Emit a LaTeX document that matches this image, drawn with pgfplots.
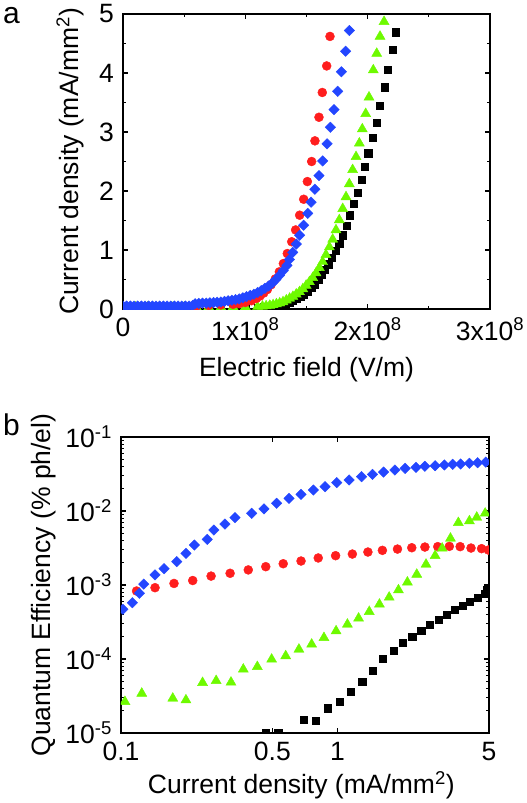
\documentclass[border=0pt]{standalone}
\usepackage{pgfplots}
\pgfplotsset{compat=1.18}
\usepackage{fontspec}
\setmainfont{Liberation Sans}
\definecolor{mred}{RGB}{255,30,30}
\definecolor{mblue}{RGB}{35,70,255}
\definecolor{mgreen}{RGB}{110,250,0}
\newcommand{\fs}{\fontsize{26.5}{30}\selectfont}
\begin{document}
\fs
\begin{tikzpicture}
\path[use as bounding box] (0,0) rectangle (527pt,-803pt);
\node[anchor=north west,inner sep=0pt,font=\fontsize{30}{34}\selectfont] at (3pt,-7pt) {a};
\node[anchor=north west,inner sep=0pt,font=\fontsize{30}{34}\selectfont] at (3pt,-414pt) {b};
\pgfplotsset{
  every axis/.append style={
    axis line style={line width=1.6pt},
    tick style={line width=1.2pt, black},
    major tick length=5pt, minor tick length=3pt,
    tick align=inside, tick pos=both,
    scale only axis, clip marker paths=true, enlargelimits=false,
    tick label style={font=\fs},
    label style={font=\fs},
  },
  blk/.style={only marks, mark=square*, mark size=3.6pt, color=black},
  red/.style={only marks, mark=*, mark size=4.5pt, color=mred},
  blu/.style={only marks, mark=square*, mark size=3.7pt, color=mblue, mark options={rotate=45}},
  grn/.style={only marks, mark=triangle*, mark size=5.8pt, color=mgreen},
}
\begin{axis}[at={(123pt,-309pt)}, anchor=south west, width=367pt, height=295pt,
  xmin=0, xmax=3, ymin=0, ymax=5,
  xtick={0,1,2,3}, xticklabels={0,1x10\textsuperscript{8},2x10\textsuperscript{8},3x10\textsuperscript{8}},
  minor x tick num=1,
  ytick={0,1,2,3,4,5}, yticklabels={0,1,2,3,4,5}, minor y tick num=1,
  xlabel={Electric field (V/m)},
  ylabel={Current density (mA/mm\textsuperscript{2})},
  xlabel style={at={(axis description cs:0.5,-0.23)}, anchor=base},
  ylabel style={at={(axis description cs:-0.144,0.5)}, anchor=center},
]
\addplot[blk] coordinates {(0,0.02)(0.1,0.02)(0.2,0.02)(0.3,0.02)(0.4,0.02)(0.5,0.02)(0.6,0.02)(0.7,0.02)(0.8,0.02)(0.9,0.02)(1.0,0.02)(1.1,0.025)(1.15,0.03)(1.21,0.035)(1.24,0.045)(1.27,0.055)(1.30,0.07)(1.33,0.09)(1.36,0.11)(1.39,0.14)(1.42,0.17)(1.45,0.21)(1.48,0.25)(1.51,0.30)(1.54,0.36)(1.57,0.42)
(1.597,0.49)(1.624,0.58)(1.651,0.66)(1.678,0.76)(1.708,0.87)(1.741,0.99)(1.768,1.11)(1.796,1.25)(1.828,1.41)(1.856,1.59)(1.888,1.78)(1.918,1.97)(1.951,2.19)(1.978,2.41)(2.005,2.64)(2.041,2.90)(2.074,3.16)(2.101,3.45)(2.142,3.76)(2.163,4.06)(2.202,4.39)(2.229,4.69)(2.232,5.02)};
\addplot[grn] coordinates {(0,0.03)(0.1,0.03)(0.2,0.03)(0.3,0.03)(0.4,0.03)(0.5,0.03)(0.6,0.03)(0.7,0.03)(0.8,0.03)(0.9,0.035)(1.0,0.035)(1.1,0.04)(1.14,0.045)(1.17,0.05)(1.20,0.06)(1.227,0.07)(1.254,0.085)(1.281,0.10)(1.308,0.12)(1.335,0.15)(1.362,0.18)(1.389,0.21)(1.416,0.25)(1.443,0.29)(1.47,0.34)(1.497,0.40)(1.524,0.46)(1.551,0.53)(1.578,0.61)(1.605,0.70)(1.632,0.80)
(1.659,0.92)(1.687,1.05)(1.714,1.18)(1.741,1.34)(1.768,1.51)(1.796,1.70)(1.823,1.90)(1.850,2.12)(1.877,2.36)(1.905,2.58)(1.932,2.81)(1.956,3.05)(1.984,3.31)(2.011,3.59)(2.046,4.05)(2.074,4.33)(2.101,4.62)(2.134,4.87)};
\addplot[red] coordinates {(0,0.04)(0.1,0.04)(0.2,0.04)(0.3,0.04)(0.4,0.04)(0.5,0.04)(0.6,0.05)(0.7,0.06)(0.8,0.07)(0.9,0.08)(0.95,0.09)(1.0,0.11)(1.05,0.14)(1.09,0.18)(1.12,0.22)(1.15,0.27)(1.18,0.33)(1.21,0.41)(1.245,0.51)(1.278,0.63)
(1.311,0.77)(1.343,0.94)(1.379,1.14)(1.411,1.34)(1.444,1.59)(1.477,1.86)(1.507,2.16)(1.542,2.50)(1.569,2.85)(1.602,3.25)(1.629,3.67)(1.665,4.12)(1.692,4.62)};
\addplot[blu] coordinates {(0,0.05)(0.03,0.05)(0.06,0.05)(0.09,0.05)(0.12,0.05)(0.15,0.05)(0.18,0.05)(0.21,0.05)(0.24,0.05)(0.27,0.05)(0.30,0.05)(0.33,0.05)(0.36,0.05)(0.39,0.05)(0.42,0.05)(0.45,0.05)(0.48,0.05)(0.51,0.05)(0.54,0.05)(0.57,0.06)
(0.59,0.09)(0.62,0.095)(0.65,0.10)(0.68,0.10)(0.71,0.105)(0.74,0.11)(0.77,0.115)(0.80,0.12)(0.83,0.13)(0.86,0.14)(0.89,0.15)(0.92,0.16)(0.95,0.17)(0.98,0.19)(1.01,0.21)(1.04,0.23)(1.07,0.25)(1.10,0.28)(1.13,0.31)(1.16,0.35)(1.19,0.39)(1.22,0.44)(1.25,0.50)(1.28,0.57)(1.31,0.65)(1.34,0.74)(1.36,0.84)
(1.387,0.96)(1.417,1.10)(1.444,1.25)(1.477,1.42)(1.510,1.62)(1.537,1.81)(1.569,2.03)(1.602,2.26)(1.632,2.51)(1.668,2.80)(1.695,3.08)(1.725,3.38)(1.755,3.69)(1.785,4.02)(1.820,4.37)(1.850,4.72)(1.883,5.03)};
\end{axis}
\begin{axis}[at={(121pt,-733pt)}, anchor=south west, width=368pt, height=296pt,
  xmode=log, ymode=log,
  xmin=0.1, xmax=5, ymin=1e-5, ymax=1e-1,
  xtick={0.1,0.5,1,5}, xticklabels={0.1,0.5,1,5}, xminorticks=false,
  ytick={1e-5,1e-4,1e-3,1e-2,1e-1},
  yticklabels={10\textsuperscript{-5},10\textsuperscript{-4},10\textsuperscript{-3},10\textsuperscript{-2},10\textsuperscript{-1}},
  yminorticks=true,
  xlabel={Current density (mA/mm\textsuperscript{2})},
  ylabel={Quantum Efficiency (\% ph/el)},
  xlabel style={at={(axis description cs:0.49,-0.203)}, anchor=base},
  ylabel style={at={(axis description cs:-0.209,0.5)}, anchor=center},
]
\addplot[blk] coordinates {(0.466,1.0e-5)(0.532,1.0e-5)(0.695,1.50e-5)(0.793,1.47e-5)(0.900,2.16e-5)(1.02,2.65e-5)(1.15,3.61e-5)(1.30,4.93e-5)(1.45,6.88e-5)(1.61,1.01e-4)(1.81,1.29e-4)(2.00,1.68e-4)(2.21,2.00e-4)(2.43,2.39e-4)(2.67,2.88e-4)(2.94,3.43e-4)(3.19,4.01e-4)(3.48,4.59e-4)(3.78,5.20e-4)(4.09,5.89e-4)(4.43,6.74e-4)(4.76,7.55e-4)(4.91,8.55e-4)};
\addplot[red] coordinates {(0.118,8.30e-4)(0.1436,9.2e-4)(0.1757,1.05e-3)(0.2144,1.15e-3)(0.2606,1.32e-3)(0.319,1.44e-3)(0.387,1.60e-3)(0.466,1.77e-3)(0.561,1.94e-3)(0.678,2.11e-3)(0.814,2.32e-3)(0.979,2.49e-3)(1.17,2.62e-3)(1.38,2.79e-3)(1.61,2.94e-3)(1.89,3.06e-3)(2.20,3.19e-3)(2.53,3.26e-3)(2.90,3.30e-3)(3.28,3.33e-3)(3.68,3.30e-3)(4.13,3.16e-3)(4.62,3.10e-3)(4.97,2.97e-3)};
\addplot[blu] coordinates {(0.098,3.6e-4)(0.102,4.70e-4)(0.1128,5.77e-4)(0.1216,7.73e-4)(0.1274,1.03e-3)(0.1436,1.37e-3)(0.158,1.66e-3)(0.181,2.07e-3)(0.1995,2.68e-3)(0.218,3.47e-3)(0.25,4.14e-3)(0.2685,5.53e-3)(0.302,6.67e-3)(0.336,8.12e-3)(0.401,9.3e-3)(0.457,1.07e-2)(0.523,1.27e-2)(0.597,1.48e-2)(0.678,1.68e-2)(0.773,1.92e-2)(0.875,2.13e-2)(0.991,2.42e-2)(1.13,2.63e-2)(1.29,2.91e-2)(1.45,3.13e-2)(1.63,3.36e-2)(1.84,3.58e-2)(2.05,3.77e-2)(2.30,3.89e-2)(2.53,4.02e-2)(2.82,4.10e-2)(3.11,4.19e-2)(3.40,4.28e-2)(3.70,4.32e-2)(4.06,4.41e-2)(4.43,4.50e-2)(4.83,4.59e-2)};
\addplot[grn] coordinates {(0.1043,2.65e-5)(0.1247,3.43e-5)(0.147,8.8e-6)(0.1734,2.94e-5)(0.1995,2.79e-5)(0.238,4.79e-5)(0.275,5.09e-5)(0.322,4.84e-5)(0.367,7.26e-5)(0.426,7.87e-5)(0.496,9.9e-5)(0.576,1.10e-4)(0.663,1.35e-4)(0.759,1.58e-4)(0.865,1.94e-4)(0.984,2.39e-4)(1.11,2.94e-4)(1.25,3.55e-4)(1.40,4.36e-4)(1.56,5.48e-4)(1.73,6.82e-4)(1.91,8.55e-4)(2.10,1.09e-3)(2.32,1.39e-3)(2.56,1.90e-3)(2.82,2.49e-3)(3.04,3.13e-3)(3.32,4.27e-3)(3.61,6.95e-3)(4.06,7.33e-3)(4.39,8.21e-3)(4.80,9.31e-3)};
\end{axis}
\end{tikzpicture}
\end{document}
